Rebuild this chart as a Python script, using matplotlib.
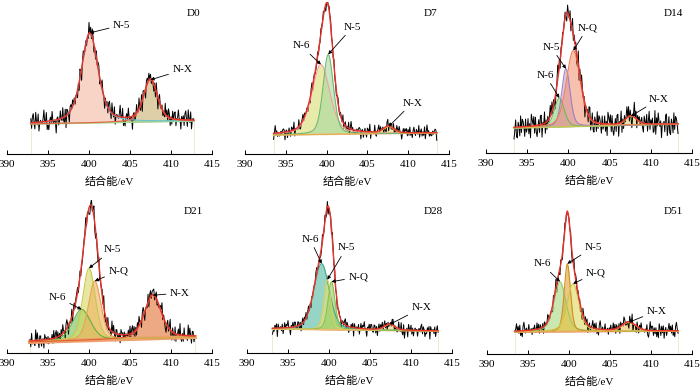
import numpy as np
import matplotlib
matplotlib.use('Agg')
import matplotlib.pyplot as plt

plt.rcParams['font.family'] = ['Liberation Serif', 'Noto Sans CJK SC']

# ---- data (intensity in arbitrary units) ----
names = ['D0', 'D7', 'D14', 'D21', 'D28', 'D51']
x_start = [392.9, 393.5, 393.4, 392.8, 393.1, 393.4]
x_end = [412.8, 413.5, 413.3, 412.9, 413.3, 413.3]
base_left = [30, 19, 25, 11, 24, 22]
base_right = [33, 21, 29, 16, 22, 23]
noise_amp = [12, 7, 14, 11, 8, 8]

peak_names = [['N-5', 'N-X'],
              ['N-6', 'N-5', 'N-X'],
              ['N-6', 'N-5', 'N-Q', 'N-X'],
              ['N-6', 'N-5', 'N-Q', 'N-X'],
              ['N-6', 'N-5', 'N-Q', 'N-X'],
              ['N-6', 'N-5', 'N-Q', 'N-X']]
peak_center = [[400.1, 407.5],
               [399.3, 400.2, 407.6],
               [398.9, 399.7, 400.6, 407.6],
               [399.1, 400.0, 400.7, 407.8],
               [399.1, 399.8, 400.3, 407.4],
               [398.9, 399.8, 400.5, 407.3]]
peak_height = [[90, 42],
               [70, 80, 7],
               [29, 58, 76, 9],
               [31, 72, 59, 43],
               [66, 50, 48, 6],
               [50, 68, 48, 9]]
peak_fwhm = [[2.4, 2.0],
             [2.6, 1.5, 1.5],
             [1.4, 1.2, 2.0, 1.6],
             [2.6, 1.8, 1.8, 2.4],
             [2.2, 1.0, 1.0, 1.5],
             [1.7, 0.9, 1.7, 2.0]]
peak_eta = [[0.5, 0.4],
            [0.4, 0.3, 0.3],
            [0.3, 0.3, 0.3, 0.3],
            [0.3, 0.3, 0.3, 0.4],
            [0.3, 0.3, 0.3, 0.3],
            [0.4, 0.3, 0.4, 0.3]]

# hand typed scatter of the measured counts around the fit
NOISE = [0.3, -0.8, 0.5, 1.0, -0.2, -0.9, 0.6, 0.1, -0.4, 0.9, -1.0, 0.2, 0.7, -0.6, 0.4, -0.1,
         0.8, -0.7, -0.3, 1.0, -0.5, 0.2, -0.9, 0.6, 0.0, -0.4, 0.9, -0.8, 0.3, 0.5, -0.2, -1.0,
         0.7, 0.4, -0.6, 0.1, 0.8, -0.3, -0.7, 0.6, 0.2, -0.5, 1.0, -0.9, 0.4, -0.1, 0.5, -0.8,
         0.9, 0.0, -0.6, 0.3, -0.2, 0.7, -1.0, 0.6, 0.1, -0.4, 0.8, -0.7, 0.5, -0.3, -0.9, 0.2,
         1.0, -0.5, 0.3, 0.6, -0.8, 0.1, -0.2, 0.9, -0.6, 0.4, -1.0, 0.7, 0.0, -0.3, 0.8, -0.4,
         0.6, -0.9, 0.2, 0.5, -0.7, 0.3, -0.1, 1.0, -0.5, 0.4, -0.8, 0.7, -0.2]

# ---- styles / layout ----
fill_cols = [['#f4b8a0', '#c8b070'],
             ['#d8dc70', '#a8d8a0', '#f0d070'],
             ['#90d080', '#c0a0d8', '#f09878', '#e0d070'],
             ['#70c050', '#d8d860', '#f0b060', '#e07030'],
             ['#50b8a0', '#e8e070', '#98d060', '#f0d080'],
             ['#a8d880', '#e0a030', '#e0d860', '#f0c060']]
edge_cols = [['#6cc0d0', '#e86040'],
             ['#f4a0a0', '#70b870', '#e0b040'],
             ['#70b860', '#a080c0', '#f08050', '#d0c050'],
             ['#60b040', '#c8c850', '#e8a050', '#e06030'],
             ['#40a890', '#d8d060', '#88c050', '#e8c070'],
             ['#98c870', '#d09020', '#d0c850', '#e8b050']]
base_cols = ['#a0d890', '#f0c0a0', '#a0d880', '#f0a070', '#f0a060', '#f08888']
base_lw = [1.2, 1.2, 1.2, 3.0, 1.2, 1.2]
label_xy = [[(404.0, 129), (411.4, 84)],
            [(396.9, 108), (403.2, 127), (410.5, 51)],
            [(397.2, 78), (397.9, 106), (402.3, 125), (411.0, 54)],
            [(396.1, 56), (402.8, 103), (403.6, 82), (411.1, 60)],
            [(397.7, 114), (402.1, 105), (403.6, 76), (411.3, 45)],
            [(396.7, 90), (403.0, 107), (403.3, 81), (410.7, 43)]]
ax_left = [7, 245, 486, 7, 247, 487]
ax_width = [205, 204, 206, 205, 205, 205]
ax_axis = [154, 154, 153, 353, 353, 354]
ax_top = [2, 2, 2, 200, 200, 200]


def pvoigt(x, c, h, w, eta):
    d = (x - c) / w
    return h * (eta / (1 + 4 * d ** 2) + (1 - eta) * np.exp(-4 * np.log(2) * d ** 2))


W, H = 700, 389
fig = plt.figure(figsize=(7, 3.89), dpi=100)

for p in range(6):
    ax = fig.add_axes([ax_left[p] / W, 1 - ax_axis[p] / H, ax_width[p] / W,
                       (ax_axis[p] - ax_top[p]) / H])
    x = np.arange(x_start[p], x_end[p] + 0.001, 0.1)
    base = base_left[p] + (base_right[p] - base_left[p]) * (x - x[0]) / (x[-1] - x[0])
    comps = [pvoigt(x, c, h, w, e) for c, h, w, e in
             zip(peak_center[p], peak_height[p], peak_fwhm[p], peak_eta[p])]
    env = base + np.sum(comps, axis=0)
    i = np.arange(len(x))
    L = len(NOISE)
    nz = 0.65 * np.array(NOISE)[(i + 17 * p) % L] + 0.45 * np.array(NOISE)[(7 * i + 5 * p) % L]
    raw = env + noise_amp[p] * nz

    for k, cmp in enumerate(comps):
        ax.fill_between(x, base, base + cmp, color=fill_cols[p][k], alpha=0.6, lw=0)
    ax.vlines([x[0], x[-1]], 0, [base[0], base[-1]], color='#e8e8d0', lw=0.6)
    ax.plot(x, raw, color='k', lw=0.7)
    ax.plot(x, base, color=base_cols[p], lw=base_lw[p])
    for k, cmp in enumerate(comps):
        ax.plot(x, base + cmp, color=edge_cols[p][k], lw=0.8)
    ax.plot(x, env, color='#e8322a', lw=1.0)

    for k, nm in enumerate(peak_names[p]):
        c = peak_center[p][k]
        j = np.argmin(np.abs(x - c))
        ax.annotate(nm, xy=(c, base[j] + comps[k][j]), xytext=label_xy[p][k],
                    ha='center', va='center', fontsize=8,
                    arrowprops=dict(arrowstyle='-|>', color='k', lw=0.6,
                                    mutation_scale=5, shrinkA=1, shrinkB=0))
    ytop = ax_axis[p] - ax_top[p]
    ax.text(412.7, ytop - 11, names[p], ha='center', va='center', fontsize=8)

    ax.set_xlim(390, 415)
    ax.set_ylim(0, ytop)
    ax.set_xticks(np.arange(390, 416, 5))
    ax.tick_params(axis='x', direction='in', length=3, width=0.7, pad=4, labelsize=8)
    ax.set_yticks([])
    for s in ['left', 'right', 'top']:
        ax.spines[s].set_visible(False)
    ax.spines['bottom'].set_linewidth(0.8)
    ax.patch.set_alpha(0)
    ax.set_xlabel('结合能/eV', fontsize=8, labelpad=6)

fig.savefig('out.png', dpi=100)
